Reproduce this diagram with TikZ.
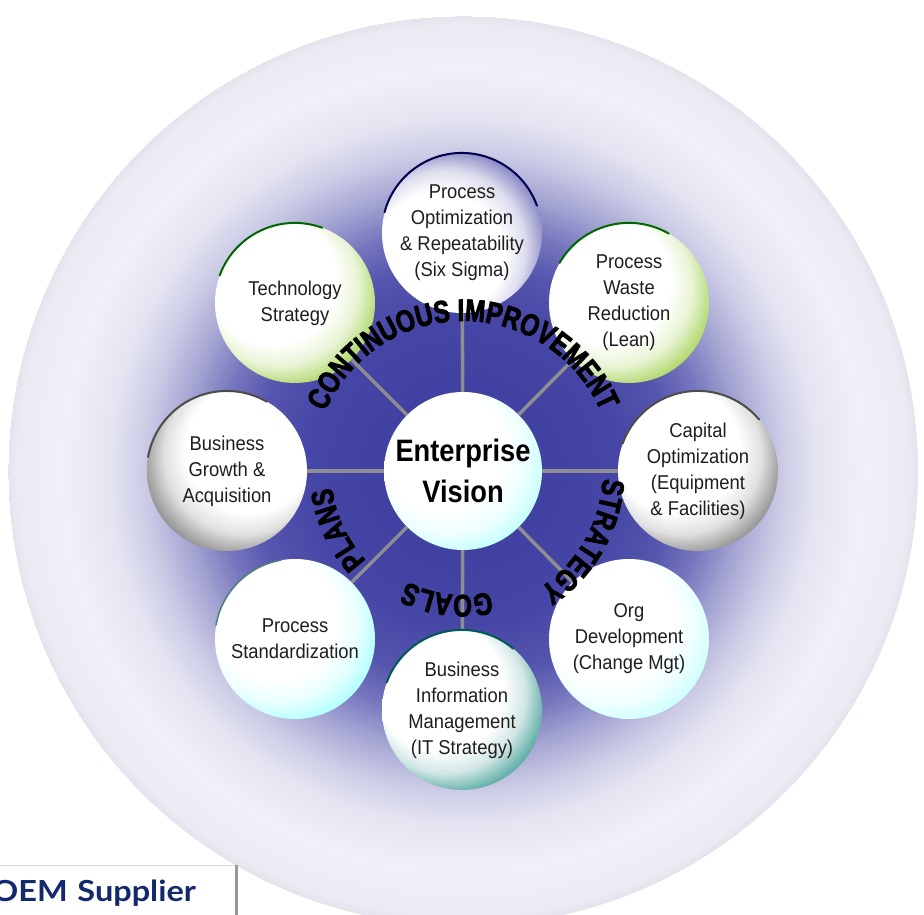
\documentclass[tikz,border=0pt]{standalone}
\usepackage{fontspec}
\setmainfont{Liberation Sans}
\newfontfamily\satfont[FakeStretch=0.92]{Liberation Sans}
\newfontfamily\hubfont[FakeStretch=0.88]{Liberation Sans}
\newfontfamily\arcfont[FakeStretch=0.78,FakeBold=2.5]{Liberation Sans Bold}
\newfontfamily\oemfont[FakeStretch=1.12]{Lato}
\usetikzlibrary{backgrounds,decorations.text}

\definecolor{textgray}{HTML}{1E1E1E}
\definecolor{linkgray}{HTML}{8E8E92}
\definecolor{oemblue}{HTML}{14286E}
\definecolor{glowA}{HTML}{3B3B9E}
\definecolor{glowB}{HTML}{4646A6}
\definecolor{glowC}{HTML}{5656AE}
\definecolor{glowD}{HTML}{7676BE}
\definecolor{glowE}{HTML}{A4A4D3}
\definecolor{glowF}{HTML}{CBCBE6}
\definecolor{glowG}{HTML}{E5E5F2}
\definecolor{glowH}{HTML}{F0F0F8}
\definecolor{glowI}{HTML}{EBEBF3}
\definecolor{glowJ}{HTML}{E3E3ED}
\colorlet{satcol}{white}

\newcommand\arclbl{\arcfont\fontsize{31pt}{31pt}\selectfont}

% the middle 50bp square is stretched over the path
\pgfdeclareradialshading{glow}{\pgfpoint{0bp}{0bp}}{%
  color(0bp)=(glowA); color(8.5bp)=(glowB); color(11.5bp)=(glowC);
  color(13.5bp)=(glowD); color(15.5bp)=(glowE); color(17.5bp)=(glowF);
  color(19.5bp)=(glowG); color(22bp)=(glowH); color(24.5bp)=(glowI);
  color(25bp)=(glowJ)}
\pgfdeclareradialshading[satcol]{satshade}{\pgfpoint{-14bp}{14bp}}{%
  color(0bp)=(white); color(20bp)=(white); color(25bp)=(satcol!22!white);
  color(28bp)=(satcol!55!white); color(31bp)=(satcol!88!white); color(40bp)=(satcol)}

\tikzset{
  tint/.code={\colorlet{satcol}{#1}},
  sat/.style={circle, minimum size=160pt, inner sep=0pt, shade, shading=satshade,
    align=center, text=textgray, font=\satfont\fontsize{20pt}{26pt}\selectfont},
  hub/.style={sat, minimum size=158pt, font=\hubfont\bfseries\fontsize{31pt}{41pt}\selectfont, text=black},
  link/.style={draw=linkgray, line width=3.5pt},
  rim/.style={line width=2pt, line cap=round},
  arclabel/.style={decorate, decoration={text along path, text align=center, text={|\arclbl|#1}}},
  oembox/.style={rectangle, draw=black!15, fill=white, minimum width=248pt, minimum height=55pt,
    text width=240pt, inner xsep=4pt, align=left, text=oemblue, font=\oemfont\bfseries\fontsize{29pt}{29pt}\selectfont}
}

\begin{document}
\begin{tikzpicture}[x=1pt,y=1pt]
	\useasboundingbox (0,0) rectangle (924,914);

	\node [hub, tint=cyan!30] at (463,443) (vision) {Enterprise\\Vision};
	\node [sat, tint={rgb,255:red,98;green,98;blue,178}, shading angle=90] at (462,681) (popt) {Process\\Optimization\\\& Repeatability\\(Six Sigma)};
	\node [sat, tint={rgb,255:red,150;green,204;blue,60}] at (629,611) (waste) {Process\\Waste\\Reduction\\(Lean)};
	\node [sat, tint=black!55] at (698,443) (capital) {Capital\\Optimization\\(Equipment\\\& Facilities)};
	\node [sat, tint=cyan!25] at (629,275) (org) {Org\\Development\\(Change Mgt)};
	\node [sat, tint={rgb,255:red,40;green,145;blue,136}] at (462,204) (bim) {Business\\Information\\Management\\(IT Strategy)};
	\node [sat, tint=cyan!40] at (295,275) (std) {Process\\Standardization};
	\node [sat, tint=black!55, shading angle=-90] at (227,443) (growth) {Business\\Growth \&\\Acquisition};
	\node [sat, tint={rgb,255:red,150;green,204;blue,60}] at (295,611) (tech) {Technology\\Strategy};

	\begin{pgfonlayer}{background}
		\shade [shading=glow] (vision.center) circle [radius=455pt];
		\path[link]
		(vision) edge (popt)
		(vision) edge (waste)
		(vision) edge (capital)
		(vision) edge (org)
		(vision) edge (bim)
		(vision) edge (std)
		(vision) edge (growth)
		(vision) edge (tech);
	\end{pgfonlayer}

	% dark rims on the upper edges
	\draw[rim, green!40!black] (tech.160) arc [start angle=160, end angle=70, radius=80pt];
	\draw[rim, blue!30!black] (popt.165) arc [start angle=165, end angle=20, radius=80pt];
	\draw[rim, green!40!black] (waste.150) arc [start angle=150, end angle=60, radius=80pt];
	\draw[rim, black!70] (capital.160) arc [start angle=160, end angle=40, radius=80pt];
	\draw[rim, black!70] (growth.170) arc [start angle=170, end angle=60, radius=80pt];
	\draw[rim, teal!70!black] (bim.160) arc [start angle=160, end angle=50, radius=80pt];
	\draw[rim, teal!40!gray, line width=1.5pt] (std.170) arc [start angle=170, end angle=100, radius=80pt];

	% curved words round the hub
	\path[arclabel={CONTINUOUS IMPROVEMENT}] (vision.center) ++(160:150pt) arc [start angle=160, end angle=20, radius=150pt];
	\path[arclabel={STRATEGY}] (vision.center) ++(10:140pt) arc [start angle=10, end angle=-70, radius=140pt];
	\path[arclabel={GOALS}] (vision.center) ++(-60:124pt) arc [start angle=-60, end angle=-134, radius=124pt];
	\path[arclabel={PLANS}] (vision.center) ++(240:132pt) arc [start angle=240, end angle=170, radius=132pt];

	\node [oembox, anchor=north west] at (-12,49) (oem) {OEM Supplier};
	\draw[black!40, line width=3pt] (oem.north east) -- (oem.south east);
\end{tikzpicture}
\end{document}
